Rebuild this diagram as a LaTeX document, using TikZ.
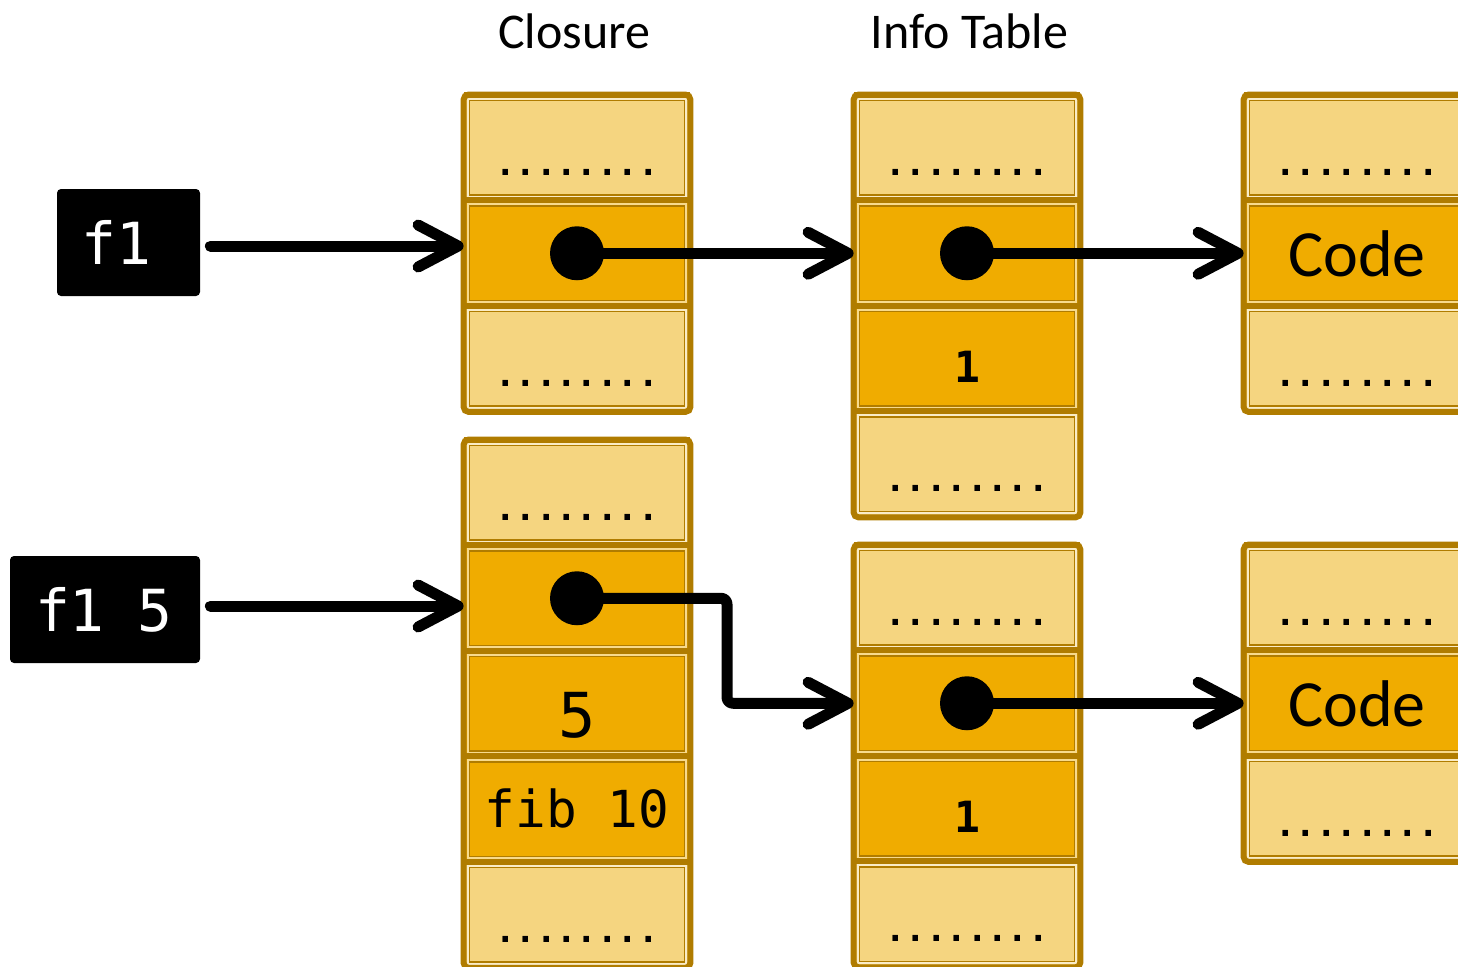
\documentclass[tikz,border=0pt]{standalone}
\usepackage{fontspec}
\setmainfont{Carlito}
\newfontfamily\monofont{DejaVu Sans Mono}
\usetikzlibrary{arrows.meta}

\definecolor{gold}{HTML}{B07C00}
\definecolor{pale}{HTML}{F5D580}
\definecolor{amber}{HTML}{F0AC00}

\newcommand\dotrow{\raisebox{-2pt}{\monofont\bfseries\fontsize{17pt}{17pt}\selectfont ........}}
\newcommand\codetxt{{\fontsize{33pt}{33pt}\selectfont Code}}
\newcommand\numtxt[1]{{\monofont\bfseries\fontsize{21.5pt}{21.5pt}\selectfont #1}}
% monospaced word gap for the expression boxes
\newcommand\monogap{\spaceskip=16.5pt\relax}

\tikzset{
  cell/.style={rectangle, inner sep=0pt, minimum width=113pt, minimum height=52.75pt,
    text height=23.5pt, text depth=0pt},
  strip/.style={line width=1pt},
  thinline/.style={draw=gold, line width=0.75pt},
  divider/.style={draw=gold, line width=3pt},
  frame/.style={draw=gold, line width=3pt, rounded corners=2.5pt},
  bullet/.style={circle, fill=black, minimum size=27pt, inner sep=0pt},
  title/.style={anchor=base, font=\fontsize{25pt}{25pt}\selectfont},
  keybox/.style={fill=black, rounded corners=2pt, text=white, align=left,
    minimum height=53.5pt, inner xsep=12.5pt,
    font=\monofont\fontsize{29pt}{29pt}\selectfont},
  ptr/.style={draw=black, line width=5.5pt, line cap=round, line join=round,
    -{Straight Barb[length=20pt,width=21pt,round]}},
}

% one cell of a memory block: fill, double inner rule, top divider
\newcommand\mycell[5]{%
  \node[cell,fill=#4] (#1) at (#2,#3) {#5};
  \draw[strip,draw=#4!45!white] ([shift={(4,4)}]#1.north west) rectangle ([shift={(-4,-4)}]#1.south east);
  \draw[thinline] ([shift={(5.75,5.75)}]#1.north west) rectangle ([shift={(-5.75,-5.75)}]#1.south east);
  \draw[divider] (#1.north west) -- (#1.north east);
}
\newcommand\colframe[2]{\draw[frame] (#1.north west) rectangle (#2.south east);}

\begin{document}
\begin{tikzpicture}[x=0.5pt,y=-0.5pt]
\useasboundingbox (0,0) rectangle (1458,966);
\clip (0,0) rectangle (1458,966);

% headings
\node[title] (tclo) at (574,48) {Closure};
\node[title] (tinf) at (969.5,48) {Info Table};

% closure of f1
\mycell{ca1}{577}{147.75}{pale}{\dotrow}
\mycell{ca2}{577}{253.25}{amber}{}
\mycell{ca3}{577}{358.75}{pale}{\dotrow}
\colframe{ca1}{ca3}

% info table of f1
\mycell{ia1}{967}{147.75}{pale}{\dotrow}
\mycell{ia2}{967}{253.25}{amber}{}
\mycell{ia3}{967}{358.75}{amber}{\numtxt{1}}
\mycell{ia4}{967}{464.25}{pale}{\dotrow}
\colframe{ia1}{ia4}

% code of f1
\mycell{ka1}{1357}{147.75}{pale}{\dotrow}
\mycell{ka2}{1357}{253.25}{amber}{\codetxt}
\mycell{ka3}{1357}{358.75}{pale}{\dotrow}
\colframe{ka1}{ka3}

% closure of f1 5
\mycell{cb1}{577}{492.75}{pale}{\dotrow}
\mycell{cb2}{577}{598.25}{amber}{}
\mycell{cb3}{577}{703.75}{amber}{\raisebox{-5.25pt}{\monofont\fontsize{31pt}{31pt}\selectfont 5}}
\mycell{cb4}{577}{809.25}{amber}{\raisebox{2.75pt}{\monofont\fontsize{25.5pt}{25.5pt}\selectfont fib 10}}
\mycell{cb5}{577}{914.75}{pale}{\dotrow}
\colframe{cb1}{cb5}

% info table of f1 5
\mycell{ib1}{967}{597.75}{pale}{\dotrow}
\mycell{ib2}{967}{703.25}{amber}{}
\mycell{ib3}{967}{808.75}{amber}{\numtxt{1}}
\mycell{ib4}{967}{914.25}{pale}{\dotrow}
\colframe{ib1}{ib4}

% code of f1 5
\mycell{kb1}{1357}{597.75}{pale}{\dotrow}
\mycell{kb2}{1357}{703.25}{amber}{\codetxt}
\mycell{kb3}{1357}{808.75}{pale}{\dotrow}
\colframe{kb1}{kb3}

% expressions
\node[keybox, text width=46.5pt] (f1) at (128.5,242.5) {f1};
\node[keybox, text width=70pt] (f15) at (105,609.5) {\monogap\mbox{f1 5}};

% pointer dots
\node[bullet] (p1) at (ca2.center) {};
\node[bullet] (p2) at (ia2.center) {};
\node[bullet] (p3) at (cb2.center) {};
\node[bullet] (p4) at (ib2.center) {};

% pointers
\coordinate (f1out) at ([yshift=-1.75pt]f1.east);
\coordinate (f15out) at ([yshift=1.75pt]f15.east);
\draw[ptr, shorten <=5pt] (f1out) -- (f1out -| ca2.west);
\draw[ptr, shorten <=5pt] (f15out) -- (f15out -| cb2.west);
\draw[ptr] (p1.center) -- (ia2.west);
\draw[ptr] (p2.center) -- (ka2.west);
\draw[ptr] (p4.center) -- (kb2.west);
\coordinate (bend) at (727,0);
\draw[ptr, rounded corners=3pt] (p3.center) -| (bend |- ib2.west) -- (ib2.west);
\end{tikzpicture}
\end{document}
